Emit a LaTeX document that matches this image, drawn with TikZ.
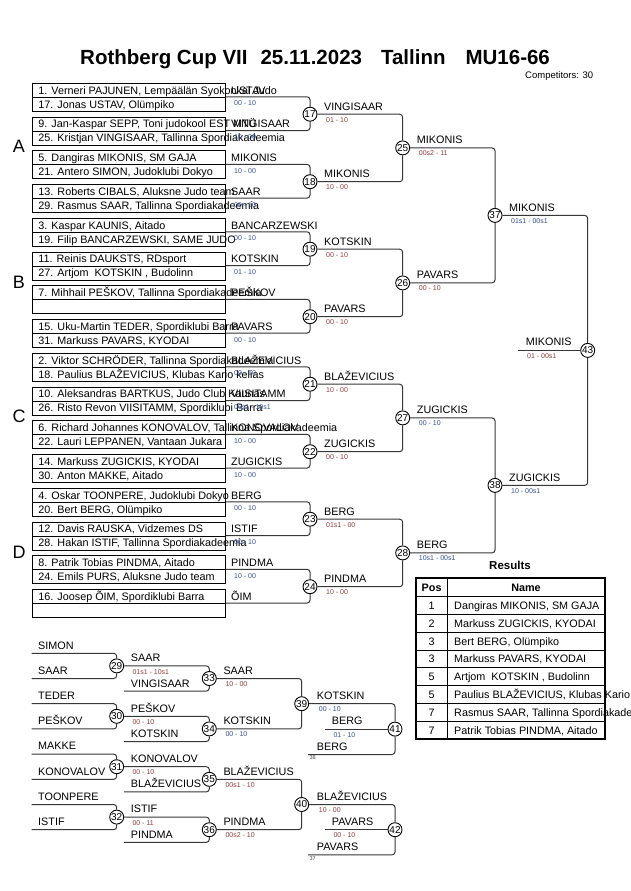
\documentclass[tikz,border=0pt]{standalone}
\usepackage{fontspec}
\setmainfont{Liberation Sans}
\definecolor{scb}{RGB}{50,80,150}
\definecolor{scr}{RGB}{150,60,60}
\definecolor{lnc}{RGB}{55,55,55}
\newcommand{\fsN}{\fontsize{10.8}{12}\selectfont}
\begin{document}
\begin{tikzpicture}[x=1pt,y=-1pt,
  rowbox/.style={draw=black, line width=0.9pt, minimum width=193pt, minimum height=14pt, inner xsep=6pt, inner ysep=0pt, text height=7.7pt, text depth=0pt, font=\fsN, anchor=west},
  circ/.style={circle, draw=black, fill=white, line width=0.9pt, minimum size=14pt, inner sep=0pt, font=\fontsize{10}{10}\selectfont},
  br/.style={draw=lnc, line width=1pt, rounded corners=3pt},
  lab/.style={anchor=west, inner sep=0pt, text height=7.7pt, text depth=0pt, font=\fsN},
  sc/.style={anchor=west, inner sep=0pt, text height=5pt, text depth=0pt, font=\fontsize{7}{8}\selectfont},
  scB/.style={sc, text=scb}, scR/.style={sc, text=scr},
  grp/.style={inner sep=0pt, text height=12.9pt, text depth=0pt, font=\fontsize{18}{20}\selectfont},
  smalltag/.style={anchor=west, inner sep=0pt, font=\fontsize{5.5}{6}\selectfont, text=black!70},
  cell/.style={inner sep=0pt, text height=7.7pt, text depth=0pt, font=\fsN},
]
\useasboundingbox (0,0) rectangle (630,891);
\fill[white] (0,0) rectangle (630,891);

% title
\node[anchor=base west, inner sep=0pt, font=\bfseries\fontsize{20.5}{24}\selectfont] (title) at (80,64.3)
  {Rothberg Cup VII\hspace{13pt}25.11.2023\hspace{19pt}Tallinn\hspace{20pt}MU16-66};
\node[anchor=base west, inner sep=0pt, font=\fontsize{9.5}{11}\selectfont] (comp) at (525,78.3) {Competitors: 30};

% group letters
\node[grp] (gA) at (19,146.5) {A};
\node[grp] (gB) at (19,282) {B};
\node[grp] (gC) at (19,416) {C};
\node[grp] (gD) at (19,552) {D};

% competitor boxes
\foreach \k/\na/\nb in {
 0/{1. Verneri PAJUNEN, Lempäälän Syokonkai Judo}/{17. Jonas USTAV, Olümpiko},
 1/{9. Jan-Kaspar SEPP, Toni judokool EST MTÜ}/{25. Kristjan VINGISAAR, Tallinna Spordiakadeemia},
 2/{5. Dangiras MIKONIS, SM GAJA}/{21. Antero SIMON, Judoklubi Dokyo},
 3/{13. Roberts CIBALS, Aluksne Judo team}/{29. Rasmus SAAR, Tallinna Spordiakadeemia},
 4/{3. Kaspar KAUNIS, Aitado}/{19. Filip BANCARZEWSKI, SAME JUDO},
 5/{11. Reinis DAUKSTS, RDsport}/{27. Artjom~ KOTSKIN , Budolinn},
 6/{7. Mihhail PEŠKOV, Tallinna Spordiakadeemia}/{},
 7/{15. Uku-Martin TEDER, Spordiklubi Barra}/{31. Markuss PAVARS, KYODAI},
 8/{2. Viktor SCHRÖDER, Tallinna Spordiakadeemia}/{18. Paulius BLAŽEVICIUS, Klubas Kario kelias},
 9/{10. Aleksandras BARTKUS, Judo Club Kaunas}/{26. Risto Revon VIISITAMM, Spordiklubi Barra},
 10/{6. Richard Johannes KONOVALOV, Tallinna Spordiakadeemia}/{22. Lauri LEPPANEN, Vantaan Jukara},
 11/{14. Markuss ZUGICKIS, KYODAI}/{30. Anton MAKKE, Aitado},
 12/{4. Oskar TOONPERE, Judoklubi Dokyo}/{20. Bert BERG, Olümpiko},
 13/{12. Davis RAUSKA, Vidzemes DS}/{28. Hakan ISTIF, Tallinna Spordiakadeemia},
 14/{8. Patrik Tobias PINDMA, Aitado}/{24. Emils PURS, Aluksne Judo team},
 15/{16. Joosep ÕIM, Spordiklubi Barra}/{}
}{
  \pgfmathsetmacro\T{83.3+33.75*\k}
  \node[rowbox] (ra\k) at (32,\T+7) {\makebox[181pt][l]{\na}};
  \node[rowbox] (rb\k) at (32,\T+21) {\makebox[181pt][l]{\nb}};
}

% first-round winners
\foreach \k/\w in {0/USTAV,1/VINGISAAR,2/MIKONIS,3/SAAR,4/BANCARZEWSKI,5/KOTSKIN,6/PEŠKOV,7/PAVARS,
  8/BLAŽEVICIUS,9/VIISITAMM,10/KONOVALOV,11/ZUGICKIS,12/BERG,13/ISTIF,14/PINDMA,15/ÕIM}{
  \pgfmathsetmacro\T{83.3+33.75*\k}
  \node[lab] (w\k) at (231,\T+7) {\w};
}
\foreach \k/\s in {0/{00 - 10},1/{10 - 00},2/{10 - 00},3/{00 - 10},4/{00 - 10},5/{01 - 10},7/{00 - 10},
  8/{00 - 10},9/{00s1 - 10s1},10/{10 - 00},11/{10 - 00},12/{00 - 10},13/{00 - 10},14/{10 - 00}}{
  \pgfmathsetmacro\T{83.3+33.75*\k}
  \node[scB] (s\k) at (234,\T+20) {\s};
}

% main bracket circles
\node[circ] (m17) at (310,114.2) {17};
\node[circ] (m18) at (310,181.7) {18};
\node[circ] (m19) at (310,249.2) {19};
\node[circ] (m20) at (310,316.7) {20};
\node[circ] (m21) at (310,384.2) {21};
\node[circ] (m22) at (310,451.7) {22};
\node[circ] (m23) at (310,519.2) {23};
\node[circ] (m24) at (310,586.7) {24};
\node[circ] (m25) at (402.7,147.9) {25};
\node[circ] (m26) at (402.7,282.9) {26};
\node[circ] (m27) at (402.7,417.9) {27};
\node[circ] (m28) at (402.7,552.9) {28};
\node[circ] (m37) at (495,215.4) {37};
\node[circ] (m38) at (495,485.4) {38};
\node[circ] (m43) at (587.7,350.4) {43};

\foreach \i in {0,...,7}{
  \pgfmathtruncatemacro\m{17+\i}
  \pgfmathtruncatemacro\p{2*\i}
  \pgfmathtruncatemacro\q{2*\i+1}
  \draw[br] (rb\p.north east) -| (m\m.north);
  \draw[br] (rb\q.north east) -| (m\m.south);
}
\foreach \a/\b/\c in {17/18/25,19/20/26,21/22/27,23/24/28,25/26/37,27/28/38,37/38/43}{
  \draw[br] (m\a.east) -| (m\c.north);
  \draw[br] (m\b.east) -| (m\c.south);
}
\coordinate (f43) at (518,350.4);
\draw[br] (f43) -- (m43.west);

% main bracket labels
\node[lab] (l17) at (324,106.2) {VINGISAAR};   \node[scR] (t17) at (326,119.7) {01 - 10};
\node[lab] (l18) at (324,173.7) {MIKONIS};     \node[scR] (t18) at (326,187.2) {10 - 00};
\node[lab] (l19) at (324,241.2) {KOTSKIN};     \node[scR] (t19) at (326,254.7) {00 - 10};
\node[lab] (l20) at (324,308.7) {PAVARS};      \node[scR] (t20) at (326,322.2) {00 - 10};
\node[lab] (l21) at (324,376.2) {BLAŽEVICIUS}; \node[scR] (t21) at (326,389.7) {10 - 00};
\node[lab] (l22) at (324,443.7) {ZUGICKIS};    \node[scR] (t22) at (326,457.2) {00 - 10};
\node[lab] (l23) at (324,511.2) {BERG};        \node[scR] (t23) at (326,524.7) {01s1 - 00};
\node[lab] (l24) at (324,578.7) {PINDMA};      \node[scR] (t24) at (326,592.2) {10 - 00};
\node[lab] (l25) at (416.7,139.9) {MIKONIS};   \node[scR] (t25) at (418.7,153.4) {00s2 - 11};
\node[lab] (l26) at (416.7,274.9) {PAVARS};    \node[scR] (t26) at (418.7,288.4) {00 - 10};
\node[lab] (l27) at (416.7,409.9) {ZUGICKIS};  \node[scB] (t27) at (418.7,423.4) {00 - 10};
\node[lab] (l28) at (416.7,544.9) {BERG};      \node[scB] (t28) at (418.7,558.4) {10s1 - 00s1};
\node[lab] (l37) at (509,207.4) {MIKONIS};     \node[scB] (t37) at (511,220.9) {01s1 - 00s1};
\node[lab] (l38) at (509,477.4) {ZUGICKIS};    \node[scB] (t38) at (511,490.9) {10 - 00s1};
\node[lab] (l43) at (525.7,341.4) {MIKONIS};   \node[scR] (t43) at (527,355.9) {01 - 00s1};

% results table
\node[inner sep=0pt, font=\bfseries\fontsize{11.5}{13}\selectfont] (restitle) at (510,565.7) {Results};
\foreach \i/\p/\n in {0/1/{Dangiras MIKONIS, SM GAJA},1/2/{Markuss ZUGICKIS, KYODAI},2/3/{Bert BERG, Olümpiko},
  3/3/{Markuss PAVARS, KYODAI},4/5/{Artjom~ KOTSKIN , Budolinn},5/5/{Paulius BLAŽEVICIUS, Klubas Kario kelias},
  6/7/{Rasmus SAAR, Tallinna Spordiakadeemia},7/7/{Patrik Tobias PINDMA, Aitado}}{
  \pgfmathsetmacro\Y{605.6+17.8*\i}
  \node[cell] (pos\i) at (431.6,\Y) {\p};
  \node[cell, anchor=west] (nm\i) at (454,\Y) {\n};
}
\node[cell, font=\bfseries\fsN] (hpos) at (431.6,587.6) {Pos};
\node[cell, font=\bfseries\fsN] (hname) at (526,587.6) {Name};
\foreach \y in {596.7,614.5,632.3,650.1,667.9,685.7,703.5,721.3}{
  \draw[line width=0.9pt] (415.5,\y) -- (604.5,\y);
}
\draw[line width=0.9pt] (447.7,578.3) -- (447.7,739.1);
\draw[line width=2pt] (415.5,578.3) rectangle (604.5,739.1);

% repechage
\node[circ] (c29) at (116.7,665.9) {29};
\node[circ] (c30) at (116.7,716.3) {30};
\node[circ] (c31) at (116.7,766.7) {31};
\node[circ] (c32) at (116.7,817.1) {32};
\node[circ] (c33) at (209.3,678.5) {33};
\node[circ] (c34) at (209.3,728.9) {34};
\node[circ] (c35) at (209.3,779.3) {35};
\node[circ] (c36) at (209.3,829.7) {36};
\node[circ] (c39) at (301.7,703.7) {39};
\node[circ] (c40) at (301.7,804.5) {40};
\node[circ] (c41) at (395,729.1) {41};
\node[circ] (c42) at (395,829.7) {42};

\foreach \i/\y/\n in {0/653.3/SIMON,1/678.5/SAAR,2/703.7/TEDER,3/728.9/PEŠKOV,4/754.1/MAKKE,5/779.3/KONOVALOV,6/804.5/TOONPERE,7/829.7/ISTIF}{
  \coordinate (e\i) at (31.7,\y);
  \node[lab] (el\i) at (38,\y-8) {\n};
}
\foreach \a/\b/\c in {0/1/29,2/3/30,4/5/31,6/7/32}{
  \draw[br] (e\a) -| (c\c.north);
  \draw[br] (e\b) -| (c\c.south);
}
\foreach \i/\y/\n in {0/691.1/VINGISAAR,1/741.5/KOTSKIN,2/791.9/BLAŽEVICIUS,3/842.3/PINDMA}{
  \coordinate (g\i) at (124,\y);
  \node[lab] (gl\i) at (130.7,\y-7.8) {\n};
}
\draw[br] (c29.east) -| (c33.north); \draw[br] (g0) -| (c33.south);
\draw[br] (c30.east) -| (c34.north); \draw[br] (g1) -| (c34.south);
\draw[br] (c31.east) -| (c35.north); \draw[br] (g2) -| (c35.south);
\draw[br] (c32.east) -| (c36.north); \draw[br] (g3) -| (c36.south);
\draw[br] (c33.east) -| (c39.north); \draw[br] (c34.east) -| (c39.south);
\draw[br] (c35.east) -| (c40.north); \draw[br] (c36.east) -| (c40.south);
\coordinate (h0) at (308,754.5);
\coordinate (h1) at (308,854.9);
\coordinate (k0) at (325,729.1);
\coordinate (k1) at (325,829.7);
\draw[br] (c39.east) -| (c41.north); \draw[br] (h0) -| (c41.south);
\draw[br] (c40.east) -| (c42.north); \draw[br] (h1) -| (c42.south);
\draw[br] (k0) -- (c41.west);
\draw[br] (k1) -- (c42.west);

\node[lab] (l29) at (130.7,657.9) {SAAR};        \node[scR] (t29) at (132.3,671.6) {01s1 - 10s1};
\node[lab] (l30) at (130.7,708.3) {PEŠKOV};      \node[scR] (t30) at (132.3,722) {00 - 10};
\node[lab] (l31) at (130.7,758.7) {KONOVALOV};   \node[scR] (t31) at (132.3,772.4) {00 - 10};
\node[lab] (l32) at (130.7,809.1) {ISTIF};       \node[scR] (t32) at (132.3,822.8) {00 - 11};
\node[lab] (l33) at (223.3,670.5) {SAAR};        \node[scR] (t33) at (225.3,684) {10 - 00};
\node[lab] (l34) at (223.3,720.9) {KOTSKIN};     \node[scB] (t34) at (225.3,734.4) {00 - 10};
\node[lab] (l35) at (223.3,771.3) {BLAŽEVICIUS}; \node[scR] (t35) at (225.3,784.8) {00s1 - 10};
\node[lab] (l36) at (223.3,821.7) {PINDMA};      \node[scR] (t36) at (225.3,835.2) {00s2 - 10};
\node[lab] (l39) at (316.7,695.7) {KOTSKIN};     \node[scB] (t39) at (318.7,709.2) {00 - 10};
\node[lab] (l41) at (331.7,721.1) {BERG};        \node[scB] (t41) at (333.3,734.6) {01 - 10};
\node[lab] (b41) at (316.7,746.5) {BERG};        \node[smalltag] (n38) at (309.3,757.5) {38};
\node[lab] (l40) at (316.7,796.5) {BLAŽEVICIUS}; \node[scR] (t40) at (318.7,810) {10 - 00};
\node[lab] (l42) at (331.7,821.7) {PAVARS};      \node[scR] (t42) at (333.3,835.2) {00 - 10};
\node[lab] (b42) at (316.7,847) {PAVARS};        \node[smalltag] (n37) at (309.3,858.7) {37};
\end{tikzpicture}
\end{document}
